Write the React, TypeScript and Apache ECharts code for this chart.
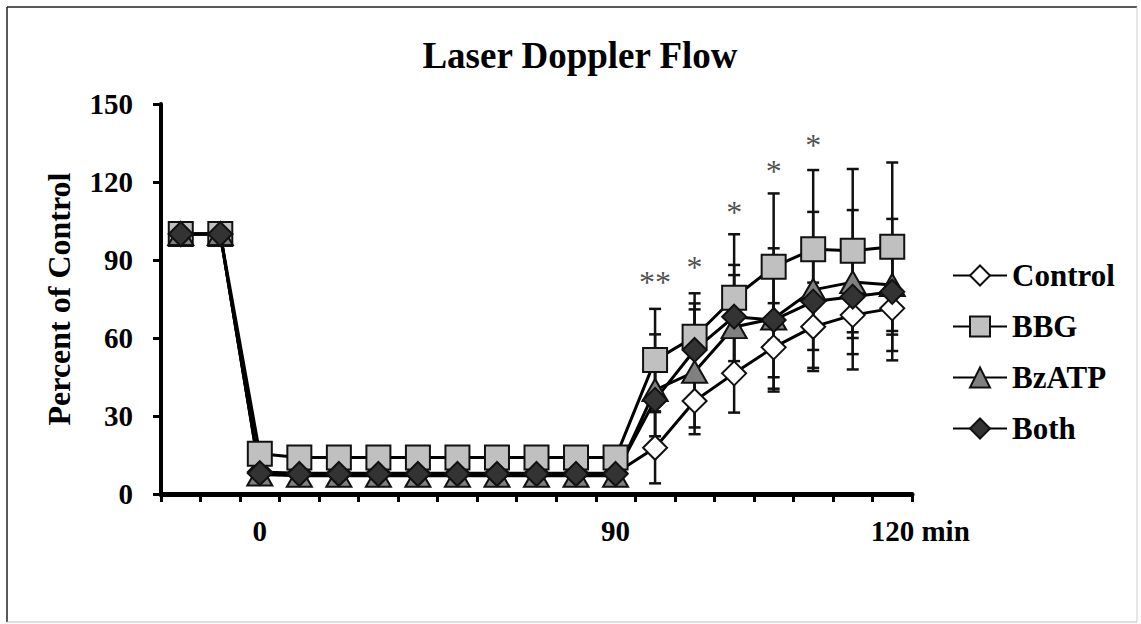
import React, { useEffect, useRef } from 'react';
import * as echarts from 'echarts';

const FONT = '"Liberation Serif", "Times New Roman", serif';

const xLabels = ['', '', '0', '', '', '', '', '', '', '', '', '90', '', '', '', '', '', '', '120'];
const seriesNames = ['Control', 'BBG', 'BzATP', 'Both'];

const controlVals = [100, 100, 8.5, 8, 8, 8, 8, 8, 8, 8, 8, 8, 17.8, 35.8, 46.4, 56.4, 64.3, 68.8, 71.4];
const bbgVals = [100, 100, 15.5, 14, 14, 14, 14, 14, 14, 14, 14, 14, 51.5, 60.5, 75.5, 87.4, 94.1, 93.6, 95.1];
const bzatpVals = [100, 100, 7.5, 7, 7, 7, 7, 7, 7, 7, 7, 7, 40, 47, 64.2, 67.5, 78.5, 81.5, 80.4];
const bothVals = [100, 100, 8, 7.7, 7.7, 7.7, 7.7, 7.7, 7.7, 7.7, 7.7, 7.7, 36.2, 55.4, 68.2, 66.9, 74.0, 75.9, 77.8];

const controlErr = [0, 0, 0, 0, 0, 0, 0, 0, 0, 0, 0, 0, 13.7, 10.2, 15.1, 17, 17, 20.9, 20];
const bbgErr = [0, 0, 0, 0, 0, 0, 0, 0, 0, 0, 0, 0, 19.7, 16.7, 24.4, 28.2, 30.5, 31.4, 32.4];
const bzatpErr = [0, 0, 0, 0, 0, 0, 0, 0, 0, 0, 0, 0, 21.4, 24, 20, 27, 30, 27.7, 25.4];
const bothErr = [0, 0, 0, 0, 0, 0, 0, 0, 0, 0, 0, 0, 14, 17.9, 19.9, 22, 18.6, 15.9, 16.5];

const starIdx = [12, 13, 14, 15, 16];
const starVals = [83.6, 89.3, 110.5, 126.3, 136.2];
const starText = ['**', '*', '*', '*', '*'];

function errorSeries(vals: number[], errs: number[]) {
  const data: number[][] = [];
  vals.forEach((v, i) => {
    if (errs[i] > 0) data.push([i, v - errs[i], v + errs[i]]);
  });
  return {
    type: 'custom',
    z: 1,
    silent: true,
    encode: { x: 0, y: [1, 2] },
    data,
    renderItem: (params: any, api: any) => {
      const x = api.value(0);
      const lo = api.coord([x, api.value(1)]);
      const hi = api.coord([x, api.value(2)]);
      const w = 6;
      const style = { stroke: '#111', lineWidth: 2.5 };
      return {
        type: 'group',
        children: [
          { type: 'line', shape: { x1: hi[0], y1: hi[1], x2: lo[0], y2: lo[1] }, style },
          { type: 'line', shape: { x1: hi[0] - w, y1: hi[1], x2: hi[0] + w, y2: hi[1] }, style },
          { type: 'line', shape: { x1: lo[0] - w, y1: lo[1], x2: lo[0] + w, y2: lo[1] }, style },
        ],
      };
    },
  };
}

function lineSeries(name: string, vals: number[], symbol: string, size: any, fill: string) {
  return {
    type: 'line',
    name,
    data: vals,
    symbol,
    symbolSize: size,
    z: 2,
    lineStyle: { color: '#000', width: 3 },
    itemStyle: { color: fill, borderColor: '#111', borderWidth: 2 },
  };
}

export default function App() {
  const ref = useRef<HTMLDivElement>(null);
  useEffect(() => {
    if (!ref.current) return;
    const chart = echarts.init(ref.current, null, { renderer: 'svg' });
    const option: any = {
      animation: false,
      backgroundColor: '#fff',
      title: {
        text: 'Laser Doppler Flow',
        left: 575,
        top: 32,
        textAlign: 'center',
        textStyle: { fontSize: 37, fontWeight: 'bold', fontFamily: FONT, color: '#000' },
      },
      graphic: [
        { type: 'line', shape: { x1: 7, y1: 7, x2: 1137, y2: 7 }, style: { stroke: '#222', lineWidth: 1.5 } },
        { type: 'line', shape: { x1: 7, y1: 7, x2: 7, y2: 622 }, style: { stroke: '#222', lineWidth: 1.5 } },
        { type: 'line', shape: { x1: 1137, y1: 7, x2: 1137, y2: 622 }, style: { stroke: '#ccc', lineWidth: 1 } },
        { type: 'line', shape: { x1: 7, y1: 622, x2: 1137, y2: 622 }, style: { stroke: '#bbb', lineWidth: 1 } },
      ],
      legend: {
        orient: 'vertical',
        left: 952,
        top: 260,
        padding: 0,
        itemWidth: 54,
        itemHeight: 25,
        itemGap: 20,
        data: seriesNames,
        textStyle: { fontSize: 31, fontWeight: 'bold', fontFamily: FONT, color: '#000' },
      },
      grid: { left: 161, right: 229, top: 104, bottom: 130, outerBoundsMode: 'none' },
      xAxis: {
        type: 'category',
        data: xLabels,
        boundaryGap: true,
        axisLine: { show: true, lineStyle: { color: '#000', width: 5 } },
        axisTick: { show: true, interval: 0, length: 8, lineStyle: { color: '#000', width: 3 } },
        axisLabel: {
          interval: 0,
          margin: 22,
          fontSize: 29,
          fontWeight: 'bold',
          fontFamily: FONT,
          color: '#000',
          formatter: (v: string) => (v === '120' ? '{pad|}{v|120}{u| min}' : v),
          rich: {
            pad: { width: 56, fontSize: 29, fontWeight: 'bold', fontFamily: FONT },
            v: { fontSize: 29, fontWeight: 'bold', fontFamily: FONT, color: '#000' },
            u: { fontSize: 29, fontWeight: 'bold', fontFamily: FONT, color: '#000' },
          },
        },
        splitLine: { show: false },
      },
      yAxis: {
        type: 'value',
        min: 0,
        max: 150,
        interval: 30,
        name: 'Percent of Control',
        nameLocation: 'middle',
        nameGap: 86,
        nameTextStyle: { fontSize: 32, fontWeight: 'bold', fontFamily: FONT, color: '#000' },
        axisLine: { show: true, lineStyle: { color: '#000', width: 4 } },
        axisTick: { show: true, length: 8, lineStyle: { color: '#000', width: 3 } },
        axisLabel: { fontSize: 29, fontWeight: 'bold', fontFamily: FONT, color: '#000', margin: 28 },
        splitLine: { show: false },
      },
      series: [
        errorSeries(controlVals, controlErr),
        errorSeries(bbgVals, bbgErr),
        errorSeries(bzatpVals, bzatpErr),
        errorSeries(bothVals, bothErr),
        lineSeries('Control', controlVals, 'diamond', 24, '#ffffff'),
        lineSeries('BBG', bbgVals, 'rect', 24, '#c0c0c0'),
        lineSeries('BzATP', bzatpVals, 'triangle', [25, 22], '#808080'),
        lineSeries('Both', bothVals, 'diamond', 24, '#333333'),
        {
          type: 'scatter',
          z: 3,
          silent: true,
          symbolSize: 1,
          itemStyle: { color: 'rgba(0,0,0,0)' },
          data: starIdx.map((x, i) => [x, starVals[i], starText[i]]),
          label: {
            show: true,
            position: 'inside',
            offset: [0, 5],
            formatter: (p: any) => p.value[2],
            fontSize: 32,
            fontFamily: FONT,
            color: '#222',
          },
        },
      ],
    };
    chart.setOption(option);
    return () => chart.dispose();
  }, []);
  return (
    <div
      ref={ref}
      style={{ position: 'absolute', left: 0, top: 0, width: 1141, height: 624, background: '#fff' }}
    />
  );
}
